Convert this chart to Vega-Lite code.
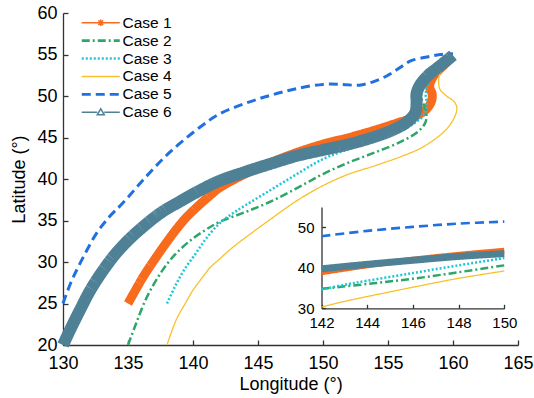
{
  "$schema": "https://vega.github.io/schema/vega-lite/v6.json",
  "width": 455,
  "height": 332,
  "autosize": {"type": "none"},
  "padding": {"left": 63, "top": 13, "right": 16, "bottom": 53},
  "datasets": {
    "tracks": [
      {"case": "Case 1", "lon": 135, "lat": 25},
      {"case": "Case 1", "lon": 135.5, "lat": 26.4},
      {"case": "Case 1", "lon": 136.2, "lat": 28.3},
      {"case": "Case 1", "lon": 137, "lat": 30.2},
      {"case": "Case 1", "lon": 137.8, "lat": 32},
      {"case": "Case 1", "lon": 138.6, "lat": 33.7},
      {"case": "Case 1", "lon": 139.5, "lat": 35.4},
      {"case": "Case 1", "lon": 140.5, "lat": 36.9},
      {"case": "Case 1", "lon": 141.3, "lat": 38.0},
      {"case": "Case 1", "lon": 142, "lat": 38.9},
      {"case": "Case 1", "lon": 144, "lat": 40.6},
      {"case": "Case 1", "lon": 146, "lat": 42.0},
      {"case": "Case 1", "lon": 148, "lat": 43.2},
      {"case": "Case 1", "lon": 150, "lat": 44.2},
      {"case": "Case 1", "lon": 152, "lat": 45.0},
      {"case": "Case 1", "lon": 154, "lat": 45.9},
      {"case": "Case 1", "lon": 155.6, "lat": 46.7},
      {"case": "Case 1", "lon": 156.9, "lat": 47.4},
      {"case": "Case 1", "lon": 157.8, "lat": 48.2},
      {"case": "Case 1", "lon": 158.3, "lat": 49.2},
      {"case": "Case 1", "lon": 158.4, "lat": 50.2},
      {"case": "Case 1", "lon": 158.2, "lat": 51.1},
      {"case": "Case 1", "lon": 158.4, "lat": 52.1},
      {"case": "Case 1", "lon": 158.9, "lat": 53.1},
      {"case": "Case 1", "lon": 159.5, "lat": 54.0},
      {"case": "Case 1", "lon": 160, "lat": 54.8},

      {"case": "Case 2", "lon": 135, "lat": 20},
      {"case": "Case 2", "lon": 135.6, "lat": 22.5},
      {"case": "Case 2", "lon": 136.4, "lat": 25.6},
      {"case": "Case 2", "lon": 137.4, "lat": 28.4},
      {"case": "Case 2", "lon": 138.5, "lat": 30.7},
      {"case": "Case 2", "lon": 139.8, "lat": 32.6},
      {"case": "Case 2", "lon": 141, "lat": 33.9},
      {"case": "Case 2", "lon": 142, "lat": 34.8},
      {"case": "Case 2", "lon": 144, "lat": 36.0},
      {"case": "Case 2", "lon": 146, "lat": 37.3},
      {"case": "Case 2", "lon": 148, "lat": 38.9},
      {"case": "Case 2", "lon": 150, "lat": 40.6},
      {"case": "Case 2", "lon": 152, "lat": 42.0},
      {"case": "Case 2", "lon": 154, "lat": 43.2},
      {"case": "Case 2", "lon": 156, "lat": 44.5},
      {"case": "Case 2", "lon": 157.3, "lat": 45.7},
      {"case": "Case 2", "lon": 157.9, "lat": 46.9},
      {"case": "Case 2", "lon": 157.9, "lat": 48.3},
      {"case": "Case 2", "lon": 157.6, "lat": 49.6},
      {"case": "Case 2", "lon": 157.6, "lat": 51.0},
      {"case": "Case 2", "lon": 158.1, "lat": 52.2},
      {"case": "Case 2", "lon": 158.9, "lat": 53.3},
      {"case": "Case 2", "lon": 159.6, "lat": 54.2},
      {"case": "Case 2", "lon": 160, "lat": 54.8},

      {"case": "Case 3", "lon": 138, "lat": 25},
      {"case": "Case 3", "lon": 138.6, "lat": 27},
      {"case": "Case 3", "lon": 139.3, "lat": 29},
      {"case": "Case 3", "lon": 140.2, "lat": 31},
      {"case": "Case 3", "lon": 141, "lat": 32.8},
      {"case": "Case 3", "lon": 142, "lat": 34.6},
      {"case": "Case 3", "lon": 143, "lat": 35.8},
      {"case": "Case 3", "lon": 144, "lat": 36.8},
      {"case": "Case 3", "lon": 146, "lat": 38.7},
      {"case": "Case 3", "lon": 148, "lat": 40.6},
      {"case": "Case 3", "lon": 150, "lat": 42.4},
      {"case": "Case 3", "lon": 152, "lat": 43.6},
      {"case": "Case 3", "lon": 154, "lat": 44.6},
      {"case": "Case 3", "lon": 155.5, "lat": 45.5},
      {"case": "Case 3", "lon": 156.8, "lat": 46.5},
      {"case": "Case 3", "lon": 157.7, "lat": 47.6},
      {"case": "Case 3", "lon": 158, "lat": 48.8},
      {"case": "Case 3", "lon": 157.9, "lat": 50.2},
      {"case": "Case 3", "lon": 158.1, "lat": 51.6},
      {"case": "Case 3", "lon": 158.7, "lat": 52.8},
      {"case": "Case 3", "lon": 159.4, "lat": 53.9},
      {"case": "Case 3", "lon": 160, "lat": 54.8},

      {"case": "Case 4", "lon": 138, "lat": 20},
      {"case": "Case 4", "lon": 138.7, "lat": 23},
      {"case": "Case 4", "lon": 139.4, "lat": 25},
      {"case": "Case 4", "lon": 140, "lat": 26.6},
      {"case": "Case 4", "lon": 140.7, "lat": 28.1},
      {"case": "Case 4", "lon": 141.3, "lat": 29.3},
      {"case": "Case 4", "lon": 142, "lat": 30.3},
      {"case": "Case 4", "lon": 143, "lat": 31.7},
      {"case": "Case 4", "lon": 144, "lat": 32.9},
      {"case": "Case 4", "lon": 146, "lat": 35.2},
      {"case": "Case 4", "lon": 148, "lat": 37.4},
      {"case": "Case 4", "lon": 150, "lat": 39.2},
      {"case": "Case 4", "lon": 152, "lat": 40.6},
      {"case": "Case 4", "lon": 154, "lat": 41.6},
      {"case": "Case 4", "lon": 156, "lat": 42.7},
      {"case": "Case 4", "lon": 157.5, "lat": 43.7},
      {"case": "Case 4", "lon": 158.6, "lat": 44.8},
      {"case": "Case 4", "lon": 159.5, "lat": 46.0},
      {"case": "Case 4", "lon": 160.1, "lat": 47.4},
      {"case": "Case 4", "lon": 160.3, "lat": 48.5},
      {"case": "Case 4", "lon": 160.1, "lat": 49.3},
      {"case": "Case 4", "lon": 159.5, "lat": 50.0},
      {"case": "Case 4", "lon": 159.0, "lat": 50.8},
      {"case": "Case 4", "lon": 158.9, "lat": 51.8},
      {"case": "Case 4", "lon": 159.0, "lat": 52.7},
      {"case": "Case 4", "lon": 159.4, "lat": 53.5},
      {"case": "Case 4", "lon": 160, "lat": 54.5},

      {"case": "Case 5", "lon": 130, "lat": 25},
      {"case": "Case 5", "lon": 130.6, "lat": 27.5},
      {"case": "Case 5", "lon": 131.3, "lat": 29.8},
      {"case": "Case 5", "lon": 132.6, "lat": 33.5},
      {"case": "Case 5", "lon": 133.6, "lat": 35.5},
      {"case": "Case 5", "lon": 134.6, "lat": 37.1},
      {"case": "Case 5", "lon": 136.4, "lat": 40.3},
      {"case": "Case 5", "lon": 138.2, "lat": 43.2},
      {"case": "Case 5", "lon": 140.5, "lat": 46.2},
      {"case": "Case 5", "lon": 142, "lat": 47.8},
      {"case": "Case 5", "lon": 144, "lat": 49.1},
      {"case": "Case 5", "lon": 146, "lat": 50.1},
      {"case": "Case 5", "lon": 148, "lat": 50.9},
      {"case": "Case 5", "lon": 150, "lat": 51.4},
      {"case": "Case 5", "lon": 151.5, "lat": 51.4},
      {"case": "Case 5", "lon": 152.8, "lat": 51.3},
      {"case": "Case 5", "lon": 154, "lat": 51.8},
      {"case": "Case 5", "lon": 155, "lat": 52.5},
      {"case": "Case 5", "lon": 155.9, "lat": 53.4},
      {"case": "Case 5", "lon": 156.7, "lat": 54.2},
      {"case": "Case 5", "lon": 158, "lat": 54.7},
      {"case": "Case 5", "lon": 159, "lat": 55.0},
      {"case": "Case 5", "lon": 160, "lat": 55.1},

      {"case": "Case 6", "lon": 130, "lat": 20},
      {"case": "Case 6", "lon": 130.6, "lat": 22},
      {"case": "Case 6", "lon": 131.3, "lat": 24.2},
      {"case": "Case 6", "lon": 132.1, "lat": 26.6},
      {"case": "Case 6", "lon": 133, "lat": 28.8},
      {"case": "Case 6", "lon": 134, "lat": 30.9},
      {"case": "Case 6", "lon": 135, "lat": 32.6},
      {"case": "Case 6", "lon": 136.2, "lat": 34.3},
      {"case": "Case 6", "lon": 137.5, "lat": 35.9},
      {"case": "Case 6", "lon": 139, "lat": 37.3},
      {"case": "Case 6", "lon": 140.5, "lat": 38.6},
      {"case": "Case 6", "lon": 142, "lat": 39.75},
      {"case": "Case 6", "lon": 144, "lat": 40.85},
      {"case": "Case 6", "lon": 146, "lat": 41.85},
      {"case": "Case 6", "lon": 148, "lat": 42.8},
      {"case": "Case 6", "lon": 150, "lat": 43.5},
      {"case": "Case 6", "lon": 152, "lat": 44.2},
      {"case": "Case 6", "lon": 154, "lat": 45.1},
      {"case": "Case 6", "lon": 155.5, "lat": 46.0},
      {"case": "Case 6", "lon": 156.5, "lat": 46.9},
      {"case": "Case 6", "lon": 157.1, "lat": 48.0},
      {"case": "Case 6", "lon": 157.2, "lat": 49.2},
      {"case": "Case 6", "lon": 157.2, "lat": 50.3},
      {"case": "Case 6", "lon": 157.5, "lat": 51.4},
      {"case": "Case 6", "lon": 158.1, "lat": 52.5},
      {"case": "Case 6", "lon": 158.9, "lat": 53.5},
      {"case": "Case 6", "lon": 159.6, "lat": 54.4},
      {"case": "Case 6", "lon": 160, "lat": 54.9}
    ]
  },
  "data": {"name": "tracks"},
  "layer": [
    {
      "mark": {"type": "line", "interpolate": "catmull-rom"},
      "encoding": {
        "x": {
          "field": "lon", "type": "quantitative",
          "scale": {"domain": [130, 165], "nice": false, "zero": false},
          "axis": {
            "orient": "bottom", "title": "Longitude (°)",
            "values": [130, 135, 140, 145, 150, 155, 160, 165],
            "tickSize": -5, "labelPadding": 14, "labelFontSize": 18,
            "titleFontSize": 18, "titlePadding": 3, "labelFlush": false, "labelOverlap": false
          }
        },
        "y": {
          "field": "lat", "type": "quantitative",
          "scale": {"domain": [20, 60], "nice": false, "zero": false},
          "axis": {
            "orient": "left", "title": "Latitude (°)",
            "values": [20, 25, 30, 35, 40, 45, 50, 55, 60],
            "tickSize": -5, "labelPadding": 11, "labelFontSize": 18,
            "titleFontSize": 18, "titlePadding": 8, "labelFlush": false, "labelOverlap": false
          }
        },
        "color": {
          "field": "case", "type": "nominal",
          "scale": {
            "domain": ["Case 1", "Case 2", "Case 3", "Case 4", "Case 5", "Case 6"],
            "range": ["#f86b1d", "#2ea66a", "#1fc6d6", "#f8c12c", "#2070e0", "#4f8196"]
          },
          "legend": {
            "orient": "none", "legendX": 30, "legendY": 2, "title": null, "padding": 0,
            "labelFont": "Liberation Sans", "labelFontSize": 15.5, "labelColor": "#000000",
            "symbolSize": 100, "labelOffset": 14, "rowPadding": 0.9, "symbolStrokeWidth": 1.5,
            "encode": {
              "symbols": {
                "update": {
                  "shape": {"signal": "datum.value === 'Case 1' ? 'M-3.8,0H3.8M0,-0.65V0.65M-0.48,-0.48L0.48,0.48M-0.48,0.48L0.48,-0.48' : datum.value === 'Case 6' ? 'M-3.8,0H-0.7M0.7,0H3.8M-0.7,0.5L0,-0.7L0.7,0.5Z' : 'M-3.8,0H3.8'"},
                  "strokeWidth": {"signal": "indexof(['Case 2','Case 3','Case 5'], datum.value) >= 0 ? 2.6 : 1.5"},
                  "fill": {"value": "transparent"}
                }
              }
            }
          }
        },
        "strokeDash": {
          "field": "case", "type": "nominal",
          "scale": {
            "domain": ["Case 1", "Case 2", "Case 3", "Case 4", "Case 5", "Case 6"],
            "range": [[1, 0], [8, 3, 2, 3], [2, 2], [1, 0], [9, 5], [1, 0]]
          },
          "legend": {
            "orient": "none", "legendX": 30, "legendY": 2, "title": null, "padding": 0,
            "labelFont": "Liberation Sans", "labelFontSize": 15.5, "labelColor": "#000000",
            "symbolSize": 100, "labelOffset": 14, "rowPadding": 0.9, "symbolStrokeWidth": 1.5,
            "encode": {
              "symbols": {
                "update": {
                  "shape": {"signal": "datum.value === 'Case 1' ? 'M-3.8,0H3.8M0,-0.65V0.65M-0.48,-0.48L0.48,0.48M-0.48,0.48L0.48,-0.48' : datum.value === 'Case 6' ? 'M-3.8,0H-0.7M0.7,0H3.8M-0.7,0.5L0,-0.7L0.7,0.5Z' : 'M-3.8,0H3.8'"},
                  "strokeWidth": {"signal": "indexof(['Case 2','Case 3','Case 5'], datum.value) >= 0 ? 2.6 : 1.5"},
                  "fill": {"value": "transparent"}
                }
              }
            }
          }
        },
        "strokeWidth": {
          "field": "case", "type": "nominal",
          "scale": {
            "type": "ordinal",
            "domain": ["Case 1", "Case 2", "Case 3", "Case 4", "Case 5", "Case 6"],
            "range": [9, 2.5, 2.5, 1.3, 3, 12]
          },
          "legend": null
        },
        "order": {"value": null}
      }
    },
    {
      "transform": [{"filter": "datum.lon >= 142 && datum.lon <= 150"}],
      "mark": {"type": "line", "interpolate": "catmull-rom"},
      "encoding": {
        "x": {
          "field": "lon", "type": "quantitative",
          "scale": {"domain": [142, 150], "nice": false, "zero": false, "range": [258.5, 441.3]},
          "axis": {
            "orient": "bottom", "title": null, "offset": -36.7,
            "values": [142, 144, 146, 148, 150],
            "tickSize": -4, "labelPadding": 11.5, "labelFontSize": 15,
            "labelFlush": false, "labelOverlap": false
          }
        },
        "y": {
          "field": "lat", "type": "quantitative",
          "scale": {"domain": [30, 55], "nice": false, "zero": false, "range": [295.3, 194]},
          "axis": {
            "orient": "left", "title": null, "offset": -258.5,
            "values": [30, 40, 50],
            "tickSize": -4, "labelPadding": 11.5, "labelFontSize": 15,
            "labelFlush": false, "labelOverlap": false
          }
        },
        "color": {"field": "case", "type": "nominal"},
        "strokeDash": {"field": "case", "type": "nominal"},
        "strokeWidth": {
          "field": "case", "type": "nominal",
          "scale": {
            "type": "ordinal",
            "domain": ["Case 1", "Case 2", "Case 3", "Case 4", "Case 5", "Case 6"],
            "range": [6, 2.5, 2.5, 1.3, 2.6, 7]
          },
          "legend": null
        },
        "order": {"value": null}
      }
    }
  ],
  "resolve": {"scale": {"x": "independent", "y": "independent", "strokeWidth": "independent"}},
  "config": {
    "view": {"stroke": null},
    "axis": {
      "grid": false,
      "domainColor": "#333333", "tickColor": "#333333",
      "domainWidth": 1.3, "tickWidth": 1.3,
      "labelFont": "Liberation Sans", "labelColor": "#000000",
      "titleFont": "Liberation Sans", "titleColor": "#000000", "titleFontWeight": "normal"
    }
  }
}
